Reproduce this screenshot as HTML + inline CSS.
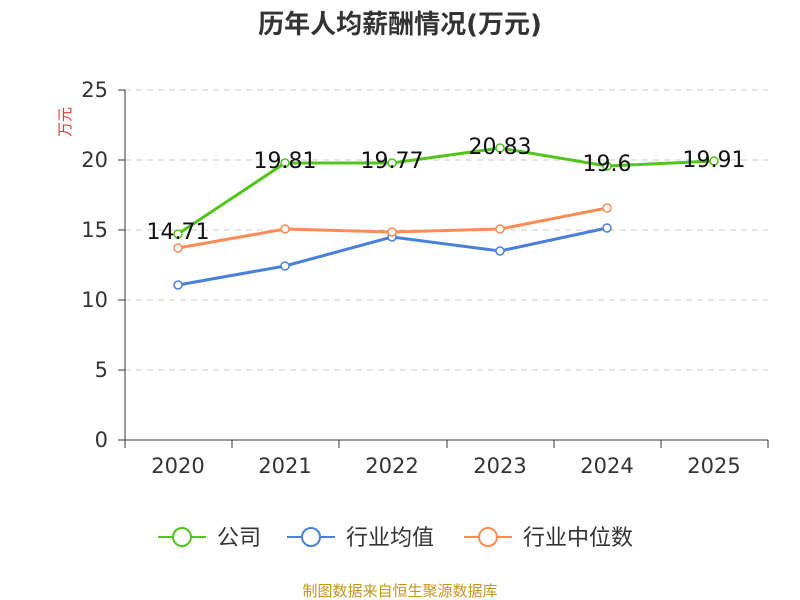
<!DOCTYPE html>
<html><head><meta charset="utf-8"><style>body{margin:0;background:#fff}svg{display:block}</style></head><body>
<svg width="800" height="600" xmlns="http://www.w3.org/2000/svg" font-family="DejaVu Sans, Noto Sans CJK SC, sans-serif">
<text x="400" y="33" text-anchor="middle" font-size="26" font-weight="bold" fill="#333">历年人均薪酬情况(万元)</text>
<text x="70" y="122" font-size="15" fill="#e33" transform="rotate(-90 70 122)" text-anchor="middle">万元</text>
<g stroke="#ccc" stroke-dasharray="6,5" stroke-width="1">
<line x1="125" y1="90" x2="768" y2="90"/><line x1="125" y1="160" x2="768" y2="160"/><line x1="125" y1="230" x2="768" y2="230"/><line x1="125" y1="300" x2="768" y2="300"/><line x1="125" y1="370" x2="768" y2="370"/></g>
<g stroke="#333" stroke-width="1">
<line x1="125" y1="90" x2="125" y2="440"/>
<line x1="118" y1="90" x2="125" y2="90"/><line x1="118" y1="160" x2="125" y2="160"/><line x1="118" y1="230" x2="125" y2="230"/><line x1="118" y1="300" x2="125" y2="300"/><line x1="118" y1="370" x2="125" y2="370"/><line x1="118" y1="440" x2="125" y2="440"/>
<line x1="125" y1="440" x2="768" y2="440"/>
<line x1="125" y1="440" x2="125" y2="448"/><line x1="232" y1="440" x2="232" y2="448"/><line x1="339" y1="440" x2="339" y2="448"/><line x1="447" y1="440" x2="447" y2="448"/><line x1="554" y1="440" x2="554" y2="448"/><line x1="661" y1="440" x2="661" y2="448"/><line x1="768" y1="440" x2="768" y2="448"/>
</g>
<g font-size="21" fill="#333" text-anchor="end">
<text x="108" y="97">25</text><text x="108" y="167">20</text><text x="108" y="237">15</text><text x="108" y="307">10</text><text x="108" y="377">5</text><text x="108" y="447">0</text></g>
<g font-size="21" fill="#333" text-anchor="middle">
<text x="178" y="473">2020</text><text x="285" y="473">2021</text><text x="392" y="473">2022</text><text x="500" y="473">2023</text><text x="607" y="473">2024</text><text x="714" y="473">2025</text></g>
<g fill="none" stroke-width="3">
<polyline stroke="#52c41a" points="178,234 285,163 392,163 500,148 607,166 714,161"/>
<polyline stroke="#4a7fe0" points="178,285 285,266 392,237 500,251 607,228"/>
<polyline stroke="#ff8c55" points="178,248 285,229 392,232 500,229 607,208"/>
</g>
<g fill="#fff" stroke-width="1.5">
<g stroke="#52c41a"><circle cx="178" cy="234" r="4"/><circle cx="285" cy="163" r="4"/><circle cx="392" cy="163" r="4"/><circle cx="500" cy="148" r="4"/><circle cx="607" cy="166" r="4"/><circle cx="714" cy="161" r="4"/></g>
<g stroke="#4a7fe0"><circle cx="178" cy="285" r="4"/><circle cx="285" cy="266" r="4"/><circle cx="392" cy="237" r="4"/><circle cx="500" cy="251" r="4"/><circle cx="607" cy="228" r="4"/></g>
<g stroke="#ff8c55"><circle cx="178" cy="248" r="4"/><circle cx="285" cy="229" r="4"/><circle cx="392" cy="232" r="4"/><circle cx="500" cy="229" r="4"/><circle cx="607" cy="208" r="4"/></g>
</g>
<g font-size="22" fill="#111" text-anchor="middle">
<text x="178" y="239">14.71</text><text x="285" y="168">19.81</text><text x="392" y="168">19.77</text><text x="500" y="154">20.83</text><text x="607" y="171">19.6</text><text x="714" y="167">19.91</text></g>
<g stroke-width="2" fill="#fff">
<line x1="158" y1="537" x2="206" y2="537" stroke="#52c41a"/><circle cx="182" cy="537" r="9" stroke="#52c41a"/>
<line x1="287" y1="537" x2="335" y2="537" stroke="#4a7fe0"/><circle cx="311" cy="537" r="9" stroke="#4a7fe0"/>
<line x1="464" y1="537" x2="512" y2="537" stroke="#ff8c55"/><circle cx="488" cy="537" r="9" stroke="#ff8c55"/>
</g>
<g font-size="22" fill="#333"><text x="217" y="545">公司</text><text x="346" y="545">行业均值</text><text x="523" y="545">行业中位数</text></g>
<text x="400" y="596" text-anchor="middle" font-size="15" fill="#c8961e">制图数据来自恒生聚源数据库</text>
</svg>
</body></html>
